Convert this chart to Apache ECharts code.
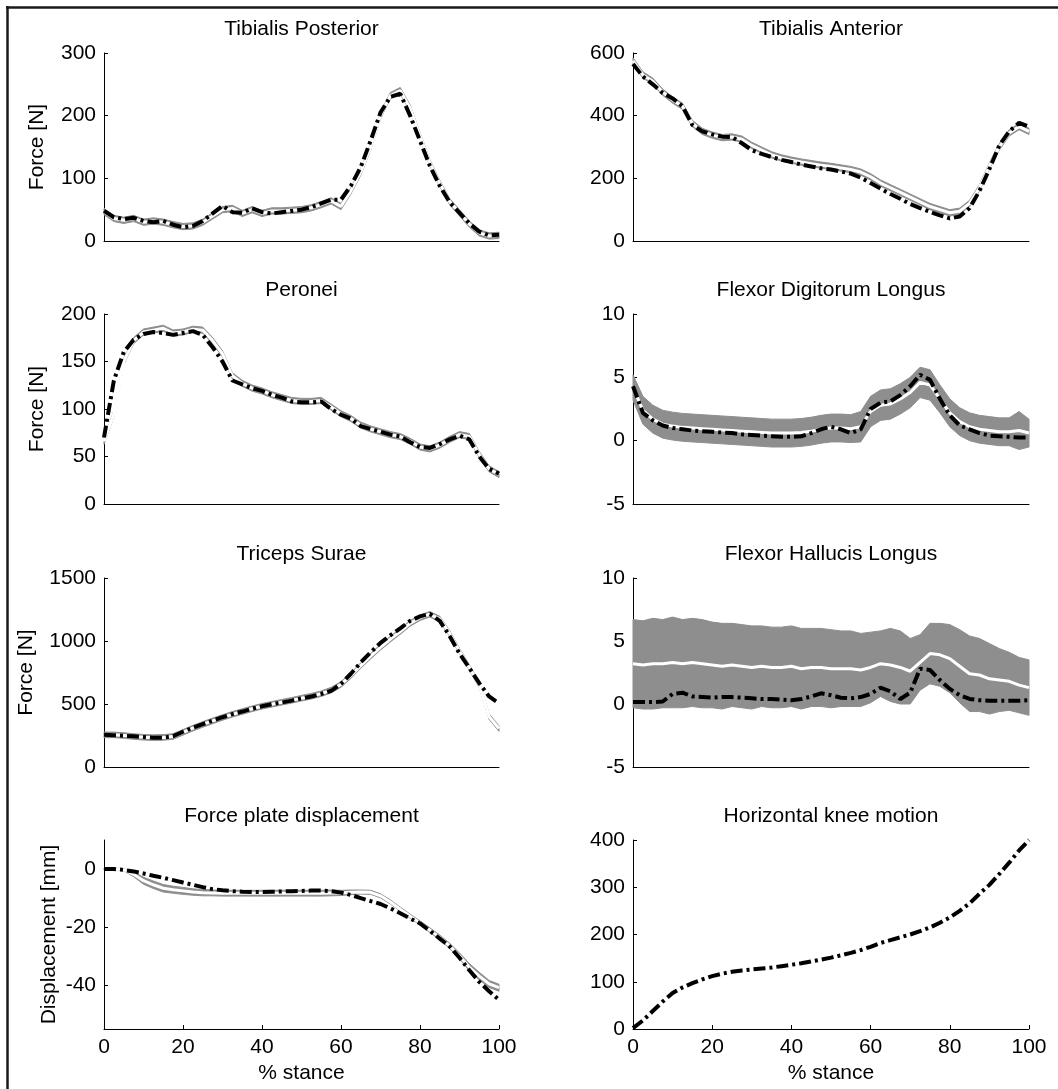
<!DOCTYPE html>
<html>
<head>
<meta charset="utf-8">
<title>Muscle forces during stance</title>
<script src="https://cdn.jsdelivr.net/npm/echarts@6/dist/echarts.min.js"></script>
<style>
  html, body { margin: 0; padding: 0; background: #fff; }
  #chart { width: 1058px; height: 1089px; }
</style>
</head>
<body>
<div id="chart"></div>
<script>
// sample points, % stance
const STANCE = [0, 2.5, 5, 7.5, 10, 12.5, 15, 17.5, 20, 22.5, 25, 27.5, 30, 32.5, 35, 37.5, 40,
  42.5, 45, 47.5, 50, 52.5, 55, 57.5, 60, 62.5, 65, 67.5, 70, 72.5, 75, 77.5, 80, 82.5, 85, 87.5,
  90, 92.5, 95, 97.5, 100];

// Tibialis Posterior [N]
const TP_MEASURED = [48, 38, 35, 37, 32, 30, 32, 26, 22, 24, 32, 44, 56, 46, 45, 52, 46, 44, 46, 48,
  50, 54, 60, 66, 66, 88, 118, 160, 205, 230, 235, 200, 160, 120, 88, 62, 45, 28, 15, 9, 10];
const TP_MEAN = [47, 36, 33, 36, 30, 32, 30, 26, 23, 24, 30, 40, 50, 52, 44, 50, 44, 48, 48, 49,
  50, 53, 58, 64, 55, 80, 110, 150, 200, 232, 240, 212, 168, 125, 92, 63, 45, 27, 13, 8, 9];
const TP_SD = 5;

// Tibialis Anterior [N]
const TA_MEASURED = [565, 525, 500, 472, 455, 430, 370, 350, 340, 333, 332, 312, 290, 278, 268, 259,
  252, 244, 238, 232, 228, 222, 215, 202, 185, 167, 150, 135, 118, 105, 93, 82, 72, 78, 105, 160,
  230, 305, 350, 377, 365];
const TA_MEAN = [575, 530, 510, 475, 450, 430, 375, 350, 338, 330, 332, 325, 305, 290, 275, 265,
  258, 252, 247, 242, 238, 233, 228, 220, 205, 185, 170, 155, 140, 125, 110, 100, 90, 95, 120, 170,
  240, 300, 345, 365, 350];
const TA_SD = 10;

// Peronei [N]
const PER_MEASURED = [70, 130, 160, 173, 179, 181, 180, 178, 180, 182, 178, 165, 150, 130, 126, 122,
  119, 115, 112, 108, 107, 107, 108, 100, 94, 90, 82, 79, 76, 73, 71, 65, 60, 59, 63, 68, 72, 68,
  50, 37, 32];
const PER_MEAN = [66, 95, 150, 172, 181, 183, 185, 180, 181, 184, 183, 172, 158, 135, 127, 122,
  119, 115, 112, 109, 108, 108, 109, 102, 95, 90, 83, 79, 76, 73, 71, 66, 60, 58, 62, 68, 73, 71,
  52, 37, 31];
const PER_SD = 3.2;

// Flexor Digitorum Longus [N]
const FDL_MEASURED = [4.3, 2.2, 1.6, 1.2, 1.0, 0.9, 0.8, 0.75, 0.7, 0.65, 0.6, 0.5, 0.45, 0.4, 0.35,
  0.3, 0.3, 0.35, 0.6, 0.9, 1.1, 0.9, 0.6, 0.9, 2.5, 3.0, 3.1, 3.6, 4.3, 5.2, 4.8, 3.3, 2.0, 1.2,
  0.9, 0.6, 0.4, 0.35, 0.3, 0.25, 0.25];
const FDL_MEAN = [4.2, 2.4, 1.7, 1.3, 1.15, 1.05, 1.0, 0.95, 0.9, 0.85, 0.8, 0.75, 0.7, 0.65, 0.6,
  0.6, 0.6, 0.65, 0.75, 0.9, 1.0, 1.0, 0.95, 1.1, 2.3, 2.8, 2.9, 3.3, 3.8, 4.6, 4.4, 3.3, 2.2, 1.5,
  1.1, 0.9, 0.8, 0.7, 0.7, 0.8, 0.6];
const FDL_SD = [1.0, 1.1, 1.1, 1.1, 1.1, 1.1, 1.1, 1.1, 1.1, 1.1, 1.1, 1.1, 1.1, 1.1, 1.1, 1.1,
  1.1, 1.1, 1.1, 1.1, 1.1, 1.1, 1.1, 1.2, 1.2, 1.2, 1.2, 1.2, 1.2, 1.2, 1.2, 1.1, 1.1, 1.1, 1.1,
  1.1, 1.1, 1.1, 1.1, 1.5, 1.1];

// Triceps Surae [N]
const TS_MEASURED = [255, 252, 248, 244, 238, 232, 233, 245, 280, 312, 340, 368, 395, 420, 440, 462,
  482, 498, 512, 527, 545, 560, 580, 605, 660, 740, 830, 910, 985, 1045, 1100, 1160, 1195, 1215,
  1160, 1040, 900, 785, 665, 560, 505];
const TS_MEAN = [255, 255, 250, 242, 236, 233, 235, 242, 275, 308, 338, 366, 393, 418, 440, 462,
  482, 498, 514, 529, 546, 562, 582, 610, 655, 725, 805, 880, 950, 1015, 1075, 1140, 1185, 1212,
  1175, 1060, 920, 790, 650, 400, 305];
const TS_SD = 22;

// Flexor Hallucis Longus [N]
const FHL_MEASURED = [0.15, 0.15, 0.15, 0.2, 0.8, 0.9, 0.6, 0.55, 0.5, 0.55, 0.55, 0.5, 0.45, 0.4,
  0.4, 0.35, 0.3, 0.4, 0.6, 0.85, 0.7, 0.5, 0.45, 0.55, 0.8, 1.3, 1.0, 0.4, 0.9, 2.8, 2.7, 1.9,
  1.2, 0.7, 0.4, 0.3, 0.25, 0.25, 0.25, 0.25, 0.3];
const FHL_MEAN = [3.2, 3.1, 3.2, 3.2, 3.3, 3.2, 3.3, 3.2, 3.1, 3.0, 3.1, 3.0, 2.9, 3.0, 2.9, 2.9,
  3.0, 2.8, 2.9, 2.9, 2.8, 2.8, 2.8, 2.7, 2.9, 3.2, 3.1, 2.9, 2.6, 3.3, 4.0, 3.9, 3.6, 3.0, 2.4,
  2.3, 2.0, 1.9, 1.8, 1.5, 1.3];
const FHL_SD = [3.5, 3.5, 3.6, 3.5, 3.6, 3.5, 3.5, 3.5, 3.4, 3.4, 3.3, 3.3, 3.3, 3.2, 3.2, 3.2,
  3.2, 3.2, 3.1, 3.1, 3.1, 3.0, 3.0, 2.9, 2.8, 2.6, 2.9, 2.9, 2.6, 2.2, 2.4, 2.5, 2.7, 2.9, 3.0,
  2.9, 2.8, 2.5, 2.3, 2.2, 2.2];

// Force plate displacement [mm]
const FPD_MEASURED = [0, 0, -0.3, -0.8, -1.5, -2.3, -3.0, -3.8, -4.6, -5.4, -6.2, -6.9, -7.3, -7.6,
  -7.8, -7.9, -7.9, -7.8, -7.7, -7.6, -7.5, -7.4, -7.4, -7.6, -8.1, -8.9, -10.0, -11.0, -12.0,
  -13.5, -15.2, -17.0, -18.7, -21.2, -23.9, -26.6, -30.5, -34.8, -38.8, -42.0, -45.0];
const FPD_MEAN = [0, 0, -0.2, -1.8, -4.0, -5.4, -6.6, -7.1, -7.5, -7.9, -8.1, -8.2, -8.3, -8.3,
  -8.3, -8.3, -8.3, -8.3, -8.3, -8.3, -8.3, -8.3, -8.3, -8.2, -8.2, -8.0, -7.9, -8.0, -9.2, -11.3,
  -13.8, -16.2, -18.5, -21.0, -23.5, -26.4, -29.8, -33.8, -36.8, -39.5, -40.8];
const FPD_SD = [0.3, 0.3, 0.4, 0.8, 1.2, 1.3, 1.3, 1.2, 1.2, 1.1, 1.1, 1.0, 1.0, 1.0, 1.0, 1.0,
  1.0, 1.0, 1.0, 1.0, 1.0, 1.0, 1.0, 1.0, 0.9, 0.8, 0.7, 0.7, 0.7, 0.7, 0.7, 0.7, 0.7, 0.8, 0.8,
  0.9, 1.0, 1.3, 1.3, 1.2, 1.2];

// Horizontal knee motion [mm]
const HKM_MEASURED = [2, 18, 38, 58, 76, 88, 97, 105, 112, 117, 121, 124, 126, 128, 130, 133, 136,
  139, 143, 147, 151, 156, 161, 167, 174, 182, 188, 194, 200, 207, 215, 225, 236, 250, 266, 286,
  305, 328, 352, 378, 400];

const X_TICKS = [0, 20, 40, 60, 80, 100];
const FPD_TICKS = [-40, -20, 0];

const panels = [
  { title: "Tibialis Posterior", row: 0, col: 0, measured: TP_MEASURED, mean: TP_MEAN, sd: TP_SD,
    min: 0, max: 300, interval: 100, yName: "Force [N]", nameGap: 56 },
  { title: "Tibialis Anterior", row: 0, col: 1, measured: TA_MEASURED, mean: TA_MEAN, sd: TA_SD,
    min: 0, max: 600, interval: 200 },
  { title: "Peronei", row: 1, col: 0, measured: PER_MEASURED, mean: PER_MEAN, sd: PER_SD,
    min: 0, max: 200, interval: 50, yName: "Force [N]", nameGap: 56 },
  { title: "Flexor Digitorum Longus", row: 1, col: 1, measured: FDL_MEASURED, mean: FDL_MEAN, sd: FDL_SD,
    min: -5, max: 10, interval: 5 },
  { title: "Triceps Surae", row: 2, col: 0, measured: TS_MEASURED, mean: TS_MEAN, sd: TS_SD,
    min: 0, max: 1500, interval: 500, yName: "Force [N]", nameGap: 67 },
  { title: "Flexor Hallucis Longus", row: 2, col: 1, measured: FHL_MEASURED, mean: FHL_MEAN, sd: FHL_SD,
    min: -5, max: 10, interval: 5 },
  { title: "Force plate displacement", row: 3, col: 0, measured: FPD_MEASURED, mean: FPD_MEAN, sd: FPD_SD,
    min: -55, max: 10, ticks: FPD_TICKS, yName: "Displacement [mm]", nameGap: 44 },
  { title: "Horizontal knee motion", row: 3, col: 1, measured: HKM_MEASURED,
    min: 0, max: 400, interval: 100 }
];

// layout of the 2 x 4 plot boxes (px)
const COL_LEFT = [104, 633];
const COL_WIDTH = [395, 396];
const ROW_TOP = [53, 314, 578, 840];
const ROW_HEIGHT = [188, 190, 189, 189];

const FONT = "Liberation Sans, Arial, Helvetica, sans-serif";
const GRAY = "#8e8e8e";
const textStyle = { fontFamily: FONT, fontSize: 21, color: "#000", fontWeight: "normal" };

const chart = echarts.init(document.getElementById("chart"));

const grid = [], xAxis = [], yAxis = [], title = [], series = [];

panels.forEach((p, k) => {
  const left = COL_LEFT[p.col], top = ROW_TOP[p.row];
  const w = COL_WIDTH[p.col], h = ROW_HEIGHT[p.row];
  const bottomRow = p.row === 3;

  grid.push({ left: left, top: top, width: w, height: h, outerBoundsMode: "none" });

  title.push({
    text: p.title, left: left + w / 2, top: top - 34, textAlign: "center", padding: 0,
    textStyle: textStyle
  });

  xAxis.push({
    gridIndex: k, type: "value", min: 0, max: 100, interval: 20,
    axisLine: { show: true, onZero: false, lineStyle: { color: "#000", width: 1 } },
    axisTick: { show: bottomRow, inside: true, length: 4, customValues: X_TICKS, lineStyle: { color: "#000" } },
    axisLabel: { show: bottomRow, margin: 8, customValues: X_TICKS, ...textStyle },
    splitLine: { show: false },
    name: bottomRow ? "% stance" : "", nameLocation: "middle", nameGap: 34,
    nameTextStyle: textStyle
  });

  const y = {
    gridIndex: k, type: "value", min: p.min, max: p.max,
    axisLine: { show: true, onZero: false, lineStyle: { color: "#000", width: 1 } },
    axisTick: { show: true, inside: true, length: 4, lineStyle: { color: "#000" } },
    axisLabel: { margin: 8, formatter: v => String(v), ...textStyle },
    splitLine: { show: false },
    name: p.yName || "", nameLocation: "middle", nameGap: p.nameGap || 50,
    nameTextStyle: textStyle
  };
  if (p.ticks) {
    y.axisTick.customValues = p.ticks;
    y.axisLabel.customValues = p.ticks;
  } else {
    y.interval = p.interval;
  }
  yAxis.push(y);

  const base = { xAxisIndex: k, yAxisIndex: k, silent: true };

  if (p.mean) {
    const sd = i => (Array.isArray(p.sd) ? p.sd[i] : p.sd);
    const band = STANCE.map((x, i) => [x, p.mean[i] - sd(i), p.mean[i] + sd(i)]);
    // grey spread band drawn as one polygon through the axis scales
    series.push({
      ...base, type: "custom", data: band, encode: { x: 0, y: [1, 2] }, z: 1,
      renderItem: (params, api) => {
        if (params.dataIndex !== 0) return null;
        const upper = band.map(d => api.coord([d[0], d[2]]));
        const lower = band.map(d => api.coord([d[0], d[1]])).reverse();
        return {
          type: "polygon",
          shape: { points: upper.concat(lower) },
          style: { fill: GRAY, stroke: GRAY, lineWidth: 1 }
        };
      }
    });
    // mean curve in white
    series.push({ ...base, type: "line", symbol: "none", z: 2,
      data: STANCE.map((x, i) => [x, p.mean[i]]),
      lineStyle: { color: "#fff", width: 3 } });
  }
  // measured curve, black dash-dot
  series.push({ ...base, type: "line", symbol: "none", z: 3,
    data: STANCE.map((x, i) => [x, p.measured[i]]),
    lineStyle: { color: "#000", width: 4, type: [12, 4, 3, 4], cap: "butt" } });
});

chart.setOption({
  animation: false,
  backgroundColor: "#fff",
  title: title,
  grid: grid,
  xAxis: xAxis,
  yAxis: yAxis,
  series: series,
  graphic: [
    { type: "line", shape: { x1: 7.5, y1: 6, x2: 7.5, y2: 1089 }, style: { stroke: "#1a1a1a", lineWidth: 2.5 } },
    { type: "line", shape: { x1: 6, y1: 7.5, x2: 1058, y2: 7.5 }, style: { stroke: "#1a1a1a", lineWidth: 2.5 } }
  ]
});
</script>
</body>
</html>
